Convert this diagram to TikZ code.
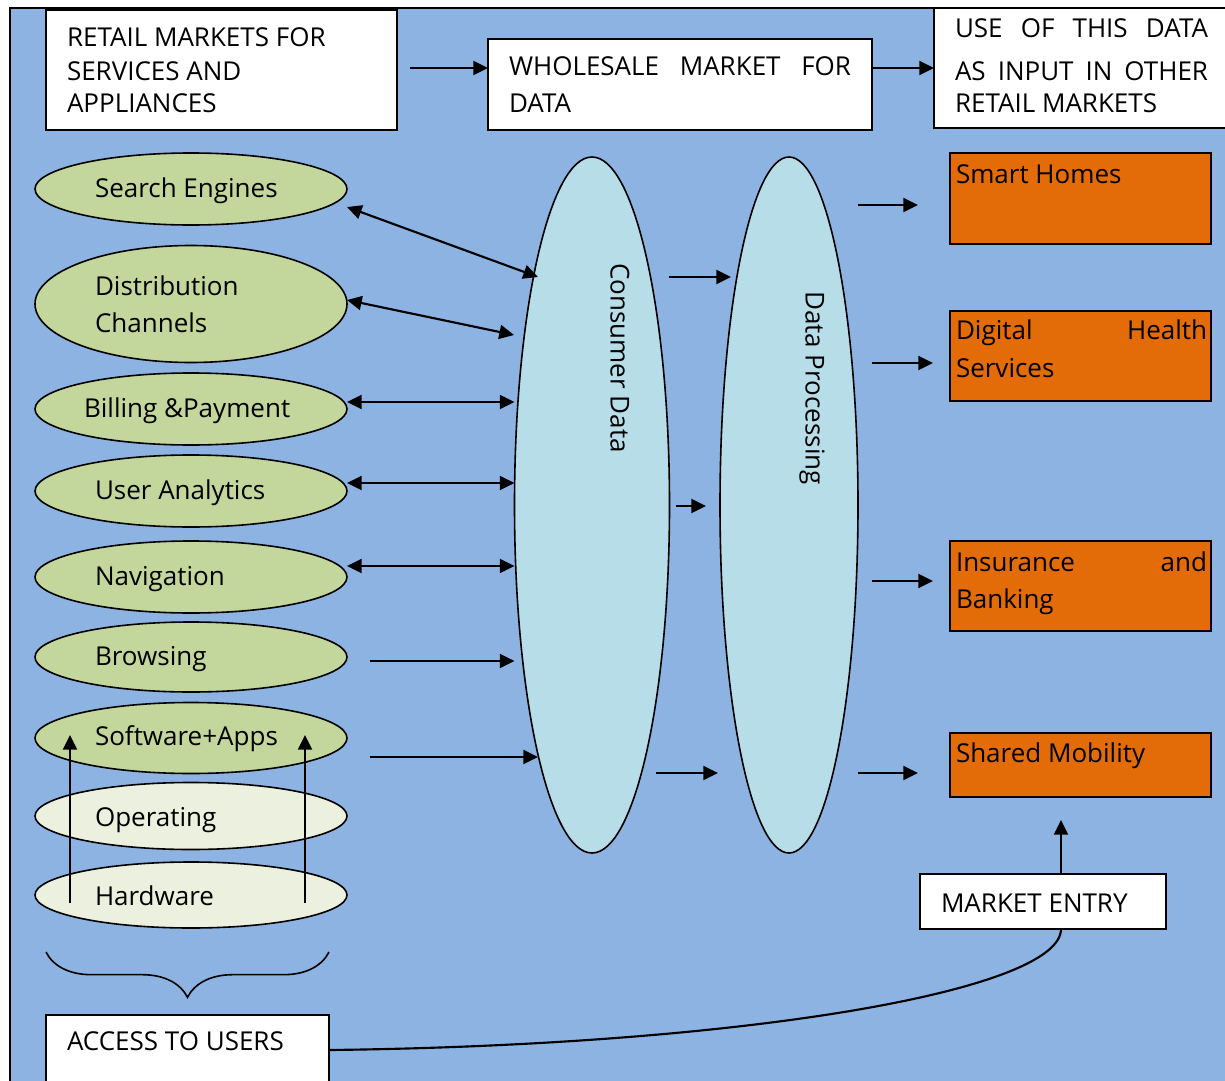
\documentclass[tikz,border=0pt]{standalone}
\usepackage{fontspec}
\setmainfont{Open Sans}
\usetikzlibrary{arrows.meta,shapes.geometric,decorations.pathreplacing,calc}
\definecolor{bgblue}{HTML}{8DB3E2}
\definecolor{leafg}{HTML}{C3D69B}
\definecolor{paleg}{HTML}{EBF1DE}
\definecolor{paleb}{HTML}{B7DDE8}
\definecolor{orng}{HTML}{E36C09}
\newcommand\pxl[1]{#1*0.75pt}
\begin{document}
\begin{tikzpicture}[x=0.75pt,y=-0.75pt,
 every node/.style={font=\fontsize{19.5}{28}\selectfont, inner sep=0pt, outer sep=0pt},
 wbox/.style={draw, line width=1.1pt, fill=white, rectangle},
 obox/.style={draw, line width=1.1pt, fill=orng, rectangle},
 gov/.style={draw, line width=1.2pt, fill=leafg, ellipse, minimum width=\pxl{312}},
 pov/.style={draw, line width=1.2pt, fill=paleg, ellipse, minimum width=\pxl{312}},
 bov/.style={draw, line width=1.2pt, fill=paleb, ellipse},
 lbl/.style={anchor=base west},
 arr/.style={line width=1.6pt, -{Triangle[length=11pt,width=10.5pt]}},
 darr/.style={line width=1.6pt, {Triangle[length=11pt,width=10.5pt]}-{Triangle[length=11pt,width=10.5pt]}},
]
\useasboundingbox (0,0) rectangle (1225,1081);
% background frame
\draw[line width=1.5pt, fill=bgblue] (10,8) rectangle (1250,1100);

% top boxes
\node[wbox, minimum width=\pxl{351}, minimum height=\pxl{120}] (retail) at (221.5,70) {};
\node[wbox, minimum width=\pxl{384}, minimum height=\pxl{91}] (whole) at (680,84.5) {};
\node[wbox, minimum width=\pxl{311}, minimum height=\pxl{120}] (use) at (1089.5,68) {};
\node[lbl] at (67,47) {RETAIL MARKETS FOR};
\node[lbl] at (67,80) {SERVICES AND};
\node[lbl] at (67,113) {APPLIANCES};
\node[lbl] at (509,75) {\makebox[256.5pt][s]{WHOLESALE MARKET FOR}};
\node[lbl] at (509,113) {DATA};
\node[lbl] at (955,38) {\makebox[189.75pt][s]{USE OF THIS DATA}};
\node[lbl] at (955,80) {\makebox[189.75pt][s]{AS INPUT IN OTHER}};
\node[lbl] at (955,113) {RETAIL MARKETS};

\coordinate (r1) at (410,68);
\draw[arr] (r1) -- (r1 -| whole.west);
\coordinate (r2) at (872,68);
\draw[arr] (r2) -- (r2 -| use.west);

% left ellipses
\node[gov, minimum height=\pxl{72}] (se) at (191,189) {};
\node[gov, minimum height=\pxl{117}] (dc) at (191,304) {};
\node[gov, minimum height=\pxl{72}] (bp) at (191,409) {};
\node[gov, minimum height=\pxl{72}] (ua) at (191,491) {};
\node[gov, minimum height=\pxl{72}] (nav) at (191,577) {};
\node[gov, minimum height=\pxl{70}] (brw) at (191,657) {};
\node[gov, minimum height=\pxl{71}] (sw) at (191,738) {};
\node[pov, minimum height=\pxl{67}] (op) at (191,816) {};
\node[pov, minimum height=\pxl{66}] (hw) at (191,895) {};
\node[lbl] at (95,197) {Search Engines};
\node[lbl] at (95,295) {Distribution};
\node[lbl] at (95,332) {Channels};
\node[lbl] at (84,417) {Billing \&Payment};
\node[lbl] at (95,499) {User Analytics};
\node[lbl] at (95,585) {Navigation};
\node[lbl] at (95,665) {Browsing};
\node[lbl] at (95,745) {Software+Apps};
\node[lbl] at (95,826) {Operating};
\node[lbl] at (95,905) {Hardware};

% big ellipses
\node[bov, minimum width=\pxl{155}, minimum height=\pxl{696}] (cd) at (592,505) {};
\node[bov, minimum width=\pxl{138}, minimum height=\pxl{696}] (dp) at (789,505) {};
\node[rotate=-90] at (620,358) {Consumer Data};
\node[rotate=-90] at (812,388) {Data Processing};

% left arrows
\coordinate (l1) at (347,207); \coordinate (c1) at (538,277);
\draw[darr] (l1) -- (c1);
\coordinate (l2) at (347,300); \coordinate (c2) at (514,335);
\draw[darr] (l2) -- (c2);
\coordinate (l3) at (347,402);
\draw[darr] (l3) -- (l3 -| cd.west);
\coordinate (l4) at (347,483);
\draw[darr] (l4) -- (l4 -| cd.west);
\coordinate (l5) at (347,566);
\draw[darr] (l5) -- (l5 -| cd.west);
\coordinate (l6) at (370,661);
\draw[arr] (l6) -- (l6 -| cd.west);
\coordinate (l7) at (370,757); \coordinate (c7) at (538,757);
\draw[arr] (l7) -- (c7);
\coordinate (u1) at (70,903); \coordinate (u2) at (305,903);
\draw[arr] (u1) -- (70,735);
\draw[arr] (u2) -- (305,735);

% middle arrows
\coordinate (m1) at (669,277); \draw[arr] (m1) -- (731,277);
\coordinate (m2) at (676,506); \draw[arr] (m2) -- (706,506);
\coordinate (m3) at (656,773); \draw[arr] (m3) -- (718,773);

% right boxes
\node[obox, minimum width=\pxl{261}, minimum height=\pxl{91}] (smart) at (1080.5,198.5) {};
\node[obox, minimum width=\pxl{261}, minimum height=\pxl{90}] (health) at (1080.5,356) {};
\node[obox, minimum width=\pxl{261}, minimum height=\pxl{90}] (insur) at (1080.5,586) {};
\node[obox, minimum width=\pxl{261}, minimum height=\pxl{64}] (mob) at (1080.5,765) {};
\node[lbl] at (956,183) {Smart Homes};
\node[lbl] at (956,339) {\makebox[188.25pt][s]{Digital Health}};
\node[lbl] at (956,377) {Services};
\node[lbl] at (956,571) {\makebox[188.25pt][s]{Insurance and}};
\node[lbl] at (956,608) {Banking};
\node[lbl] at (956,762) {Shared Mobility};

\coordinate (k1) at (858,205); \draw[arr] (k1) -- (918,205);
\coordinate (k2) at (872,363); \draw[arr] (k2) -- (933,363);
\coordinate (k3) at (872,581); \draw[arr] (k3) -- (933,581);
\coordinate (k4) at (858,773); \draw[arr] (k4) -- (918,773);

% market entry
\node[wbox, minimum width=\pxl{246}, minimum height=\pxl{55}] (entry) at (1043,901.5) {};
\node[lbl] at (941,912) {MARKET ENTRY};
\draw[arr] ([xshift=13.5pt]entry.north) -- ++(0,-54);

% brace and access
\draw[line width=1.2pt, decorate, decoration={brace, amplitude=34pt}] (329,952) -- (46,952);
\node[wbox, minimum width=\pxl{283}, minimum height=\pxl{85}] (access) at (187.5,1057.5) {};
\node[lbl] at (67,1050) {ACCESS TO USERS};
\coordinate (c0) at (330,1050);
\draw[line width=1.6pt] (c0) .. controls (750,1045) and (1061,990) .. ([xshift=13.5pt]entry.south);
\end{tikzpicture}
\end{document}
